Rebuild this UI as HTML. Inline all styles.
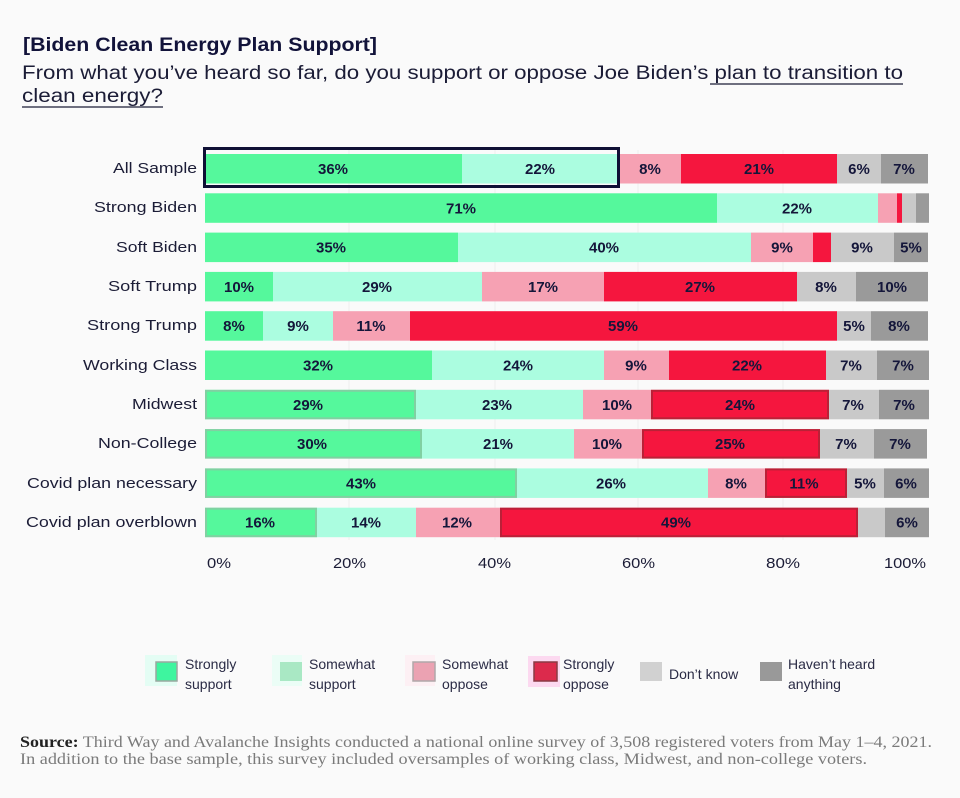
<!DOCTYPE html>
<html><head><meta charset="utf-8">
<style>
html,body{margin:0;padding:0;background:#fafafa;}
svg{display:block;}
text{font-family:"Liberation Sans",sans-serif;}
.lbl{font-size:15px;fill:#1b1c36;}
.val{font-size:15px;font-weight:bold;fill:#14163a;text-anchor:middle;}
.tick{font-size:15px;fill:#1b1c36;}
.leg{font-size:14px;fill:#2a2b45;}
.src{font-family:"Liberation Serif",serif;font-size:15.5px;fill:#7a7a7a;}
</style></head>
<body>
<svg width="960" height="798" viewBox="0 0 960 798" xmlns="http://www.w3.org/2000/svg">
<rect width="960" height="798" fill="#fafafa"/>

<!-- Title -->
<text x="23" y="51" style="font-size:19px;font-weight:bold;fill:#12133a" textLength="354" lengthAdjust="spacingAndGlyphs">[Biden Clean Energy Plan Support]</text>
<text x="22" y="79" style="font-size:19px;fill:#1b1c36" textLength="881" lengthAdjust="spacingAndGlyphs">From what you’ve heard so far, do you support or oppose Joe Biden’s plan to transition to</text>
<line x1="710" y1="84" x2="903" y2="84" stroke="#1b1c36" stroke-width="1.3"/>
<text x="22" y="102" style="font-size:19px;fill:#1b1c36" textLength="141" lengthAdjust="spacingAndGlyphs">clean energy?</text>
<line x1="22" y1="107" x2="163" y2="107" stroke="#1b1c36" stroke-width="1.3"/>

<!-- faint gridlines -->
<g stroke="#efefef" stroke-width="1">
<line x1="349" y1="150" x2="349" y2="540"/>
<line x1="495" y1="150" x2="495" y2="540"/>
<line x1="638" y1="150" x2="638" y2="540"/>
<line x1="783" y1="150" x2="783" y2="540"/>
</g>

<!-- Row labels -->
<text class="lbl" x="113" y="173" textLength="84" lengthAdjust="spacingAndGlyphs">All Sample</text>
<text class="lbl" x="94" y="212" textLength="103" lengthAdjust="spacingAndGlyphs">Strong Biden</text>
<text class="lbl" x="116" y="252" textLength="81" lengthAdjust="spacingAndGlyphs">Soft Biden</text>
<text class="lbl" x="108" y="291" textLength="89" lengthAdjust="spacingAndGlyphs">Soft Trump</text>
<text class="lbl" x="87" y="330" textLength="110" lengthAdjust="spacingAndGlyphs">Strong Trump</text>
<text class="lbl" x="83" y="370" textLength="114" lengthAdjust="spacingAndGlyphs">Working Class</text>
<text class="lbl" x="132" y="409" textLength="65" lengthAdjust="spacingAndGlyphs">Midwest</text>
<text class="lbl" x="98" y="448" textLength="99" lengthAdjust="spacingAndGlyphs">Non-College</text>
<text class="lbl" x="27" y="488" textLength="170" lengthAdjust="spacingAndGlyphs">Covid plan necessary</text>
<text class="lbl" x="26" y="527" textLength="171" lengthAdjust="spacingAndGlyphs">Covid plan overblown</text>

<!-- Bars -->
<g id="bars">
<rect x="205" y="154" width="257" height="29.5" fill="#55f89c"/>
<rect x="462" y="154" width="157" height="29.5" fill="#abfde0"/>
<rect x="619" y="154" width="62" height="29.5" fill="#f6a1b3"/>
<rect x="681" y="154" width="156" height="29.5" fill="#f5163e"/>
<rect x="837" y="154" width="44" height="29.5" fill="#c9c9c9"/>
<rect x="881" y="154" width="47" height="29.5" fill="#9a9a9a"/>

<rect x="205" y="193.3" width="512" height="29.5" fill="#55f89c"/>
<rect x="717" y="193.3" width="161" height="29.5" fill="#abfde0"/>
<rect x="878" y="193.3" width="19" height="29.5" fill="#f6a1b3"/>
<rect x="897" y="193.3" width="5" height="29.5" fill="#f5163e"/>
<rect x="902" y="193.3" width="14" height="29.5" fill="#c9c9c9"/>
<rect x="916" y="193.3" width="13" height="29.5" fill="#9a9a9a"/>

<rect x="205" y="232.6" width="253" height="29.5" fill="#55f89c"/>
<rect x="458" y="232.6" width="293" height="29.5" fill="#abfde0"/>
<rect x="751" y="232.6" width="62" height="29.5" fill="#f6a1b3"/>
<rect x="813" y="232.6" width="18" height="29.5" fill="#f5163e"/>
<rect x="831" y="232.6" width="63" height="29.5" fill="#c9c9c9"/>
<rect x="894" y="232.6" width="34" height="29.5" fill="#9a9a9a"/>

<rect x="205" y="271.9" width="68" height="29.5" fill="#55f89c"/>
<rect x="273" y="271.9" width="209" height="29.5" fill="#abfde0"/>
<rect x="482" y="271.9" width="122" height="29.5" fill="#f6a1b3"/>
<rect x="604" y="271.9" width="193" height="29.5" fill="#f5163e"/>
<rect x="797" y="271.9" width="59" height="29.5" fill="#c9c9c9"/>
<rect x="856" y="271.9" width="72" height="29.5" fill="#9a9a9a"/>

<rect x="205" y="311.2" width="58" height="29.5" fill="#55f89c"/>
<rect x="263" y="311.2" width="70" height="29.5" fill="#abfde0"/>
<rect x="333" y="311.2" width="77" height="29.5" fill="#f6a1b3"/>
<rect x="410" y="311.2" width="427" height="29.5" fill="#f5163e"/>
<rect x="837" y="311.2" width="34" height="29.5" fill="#c9c9c9"/>
<rect x="871" y="311.2" width="57" height="29.5" fill="#9a9a9a"/>

<rect x="205" y="350.5" width="227" height="29.5" fill="#55f89c"/>
<rect x="432" y="350.5" width="172" height="29.5" fill="#abfde0"/>
<rect x="604" y="350.5" width="65" height="29.5" fill="#f6a1b3"/>
<rect x="669" y="350.5" width="157" height="29.5" fill="#f5163e"/>
<rect x="826" y="350.5" width="51" height="29.5" fill="#c9c9c9"/>
<rect x="877" y="350.5" width="52" height="29.5" fill="#9a9a9a"/>

<rect x="205" y="389.8" width="211" height="29.5" fill="#55f89c"/>
<rect x="416" y="389.8" width="167" height="29.5" fill="#abfde0"/>
<rect x="583" y="389.8" width="68" height="29.5" fill="#f6a1b3"/>
<rect x="651" y="389.8" width="178" height="29.5" fill="#f5163e"/>
<rect x="829" y="389.8" width="50" height="29.5" fill="#c9c9c9"/>
<rect x="879" y="389.8" width="50" height="29.5" fill="#9a9a9a"/>

<rect x="205" y="429.1" width="217" height="29.5" fill="#55f89c"/>
<rect x="422" y="429.1" width="152" height="29.5" fill="#abfde0"/>
<rect x="574" y="429.1" width="68" height="29.5" fill="#f6a1b3"/>
<rect x="642" y="429.1" width="178" height="29.5" fill="#f5163e"/>
<rect x="820" y="429.1" width="54" height="29.5" fill="#c9c9c9"/>
<rect x="874" y="429.1" width="53" height="29.5" fill="#9a9a9a"/>

<rect x="205" y="468.4" width="312" height="29.5" fill="#55f89c"/>
<rect x="517" y="468.4" width="191" height="29.5" fill="#abfde0"/>
<rect x="708" y="468.4" width="57" height="29.5" fill="#f6a1b3"/>
<rect x="765" y="468.4" width="82" height="29.5" fill="#f5163e"/>
<rect x="847" y="468.4" width="37" height="29.5" fill="#c9c9c9"/>
<rect x="884" y="468.4" width="45" height="29.5" fill="#9a9a9a"/>

<rect x="205" y="507.7" width="112" height="29.5" fill="#55f89c"/>
<rect x="317" y="507.7" width="99" height="29.5" fill="#abfde0"/>
<rect x="416" y="507.7" width="84" height="29.5" fill="#f6a1b3"/>
<rect x="500" y="507.7" width="358" height="29.5" fill="#f5163e"/>
<rect x="858" y="507.7" width="27" height="29.5" fill="#c9c9c9"/>
<rect x="885" y="507.7" width="44" height="29.5" fill="#9a9a9a"/>
</g>

<!-- subtle artifact outlines -->
<g fill="none" stroke-width="2" opacity="0.55">
<rect x="206" y="390.8" width="209" height="27.5" stroke="#a6b0a8"/>
<rect x="206" y="430.1" width="215" height="27.5" stroke="#a6b0a8"/>
<rect x="206" y="469.4" width="310" height="27.5" stroke="#a6b0a8"/>
<rect x="206" y="508.7" width="110" height="27.5" stroke="#a6b0a8"/>
<rect x="652" y="390.8" width="176" height="27.5" stroke="#8a2a33"/>
<rect x="643" y="430.1" width="176" height="27.5" stroke="#8a2a33"/>
<rect x="766" y="469.4" width="80" height="27.5" stroke="#8a2a33"/>
<rect x="501" y="508.7" width="356" height="27.5" stroke="#8a2a33"/>
</g>

<!-- highlight box -->
<rect x="204.5" y="148.5" width="414" height="38" fill="none" stroke="#0f1035" stroke-width="3"/>

<!-- Value labels -->
<g class="vals">
<text class="val" x="333" y="174">36%</text>
<text class="val" x="540" y="174">22%</text>
<text class="val" x="650" y="174">8%</text>
<text class="val" x="759" y="174">21%</text>
<text class="val" x="859" y="174">6%</text>
<text class="val" x="904" y="174">7%</text>

<text class="val" x="461" y="213.3">71%</text>
<text class="val" x="797" y="213.3">22%</text>

<text class="val" x="331" y="252.6">35%</text>
<text class="val" x="604" y="252.6">40%</text>
<text class="val" x="782" y="252.6">9%</text>
<text class="val" x="862" y="252.6">9%</text>
<text class="val" x="911" y="252.6">5%</text>

<text class="val" x="239" y="291.9">10%</text>
<text class="val" x="377" y="291.9">29%</text>
<text class="val" x="543" y="291.9">17%</text>
<text class="val" x="700" y="291.9">27%</text>
<text class="val" x="826" y="291.9">8%</text>
<text class="val" x="892" y="291.9">10%</text>

<text class="val" x="234" y="331.2">8%</text>
<text class="val" x="298" y="331.2">9%</text>
<text class="val" x="371" y="331.2">11%</text>
<text class="val" x="623" y="331.2">59%</text>
<text class="val" x="854" y="331.2">5%</text>
<text class="val" x="899" y="331.2">8%</text>

<text class="val" x="318" y="370.5">32%</text>
<text class="val" x="518" y="370.5">24%</text>
<text class="val" x="636" y="370.5">9%</text>
<text class="val" x="747" y="370.5">22%</text>
<text class="val" x="851" y="370.5">7%</text>
<text class="val" x="903" y="370.5">7%</text>

<text class="val" x="308" y="409.8">29%</text>
<text class="val" x="497" y="409.8">23%</text>
<text class="val" x="617" y="409.8">10%</text>
<text class="val" x="740" y="409.8">24%</text>
<text class="val" x="853" y="409.8">7%</text>
<text class="val" x="904" y="409.8">7%</text>

<text class="val" x="312" y="449.1">30%</text>
<text class="val" x="498" y="449.1">21%</text>
<text class="val" x="607" y="449.1">10%</text>
<text class="val" x="730" y="449.1">25%</text>
<text class="val" x="846" y="449.1">7%</text>
<text class="val" x="900" y="449.1">7%</text>

<text class="val" x="361" y="488.4">43%</text>
<text class="val" x="611" y="488.4">26%</text>
<text class="val" x="736" y="488.4">8%</text>
<text class="val" x="804" y="488.4">11%</text>
<text class="val" x="865" y="488.4">5%</text>
<text class="val" x="906" y="488.4">6%</text>

<text class="val" x="260" y="527.7">16%</text>
<text class="val" x="366" y="527.7">14%</text>
<text class="val" x="457" y="527.7">12%</text>
<text class="val" x="676" y="527.7">49%</text>
<text class="val" x="907" y="527.7">6%</text>
</g>

<!-- X axis ticks -->
<text class="tick" x="207" y="568" textLength="24" lengthAdjust="spacingAndGlyphs">0%</text>
<text class="tick" x="333" y="568" textLength="33" lengthAdjust="spacingAndGlyphs">20%</text>
<text class="tick" x="478" y="568" textLength="33" lengthAdjust="spacingAndGlyphs">40%</text>
<text class="tick" x="622" y="568" textLength="33" lengthAdjust="spacingAndGlyphs">60%</text>
<text class="tick" x="766" y="568" textLength="34" lengthAdjust="spacingAndGlyphs">80%</text>
<text class="tick" x="884" y="568" textLength="42" lengthAdjust="spacingAndGlyphs">100%</text>

<!-- Legend -->
<rect x="145" y="655" width="32" height="31" fill="#e4fdf4"/>
<rect x="156" y="662" width="21" height="19" fill="#3ef59f" stroke="#9aa8a0" stroke-width="1.5"/>
<text class="leg" x="185" y="669">Strongly</text>
<text class="leg" x="185" y="689">support</text>

<rect x="272" y="655" width="30" height="31" fill="#ebfdf6"/>
<rect x="280" y="662" width="22" height="19" fill="#a9e8c4"/>
<text class="leg" x="309" y="669">Somewhat</text>
<text class="leg" x="309" y="689">support</text>

<rect x="405" y="655" width="30" height="31" fill="#fdf0f4"/>
<rect x="413" y="662" width="22" height="19" fill="#eba2b2" stroke="#b0a8aa" stroke-width="1.5"/>
<text class="leg" x="442" y="669">Somewhat</text>
<text class="leg" x="442" y="689">oppose</text>

<rect x="528" y="656" width="32" height="31" fill="#fcd9f0"/>
<rect x="534" y="662" width="23" height="19" fill="#dc2a4c" stroke="#8a3a45" stroke-width="1.5"/>
<text class="leg" x="563" y="669">Strongly</text>
<text class="leg" x="563" y="689">oppose</text>

<rect x="640" y="662" width="22" height="19" fill="#d1d1d1"/>
<text class="leg" x="669" y="679">Don’t know</text>

<rect x="760" y="662" width="22" height="19" fill="#999999"/>
<text class="leg" x="788" y="669">Haven’t heard</text>
<text class="leg" x="788" y="689">anything</text>

<!-- Source -->
<text class="src" x="20" y="747" textLength="912" lengthAdjust="spacingAndGlyphs"><tspan style="font-weight:bold;fill:#222">Source:</tspan> Third Way and Avalanche Insights conducted a national online survey of 3,508 registered voters from May 1–4, 2021.</text>
<text class="src" x="20" y="764" textLength="847" lengthAdjust="spacingAndGlyphs">In addition to the base sample, this survey included oversamples of working class, Midwest, and non-college voters.</text>
</svg>
</body></html>
